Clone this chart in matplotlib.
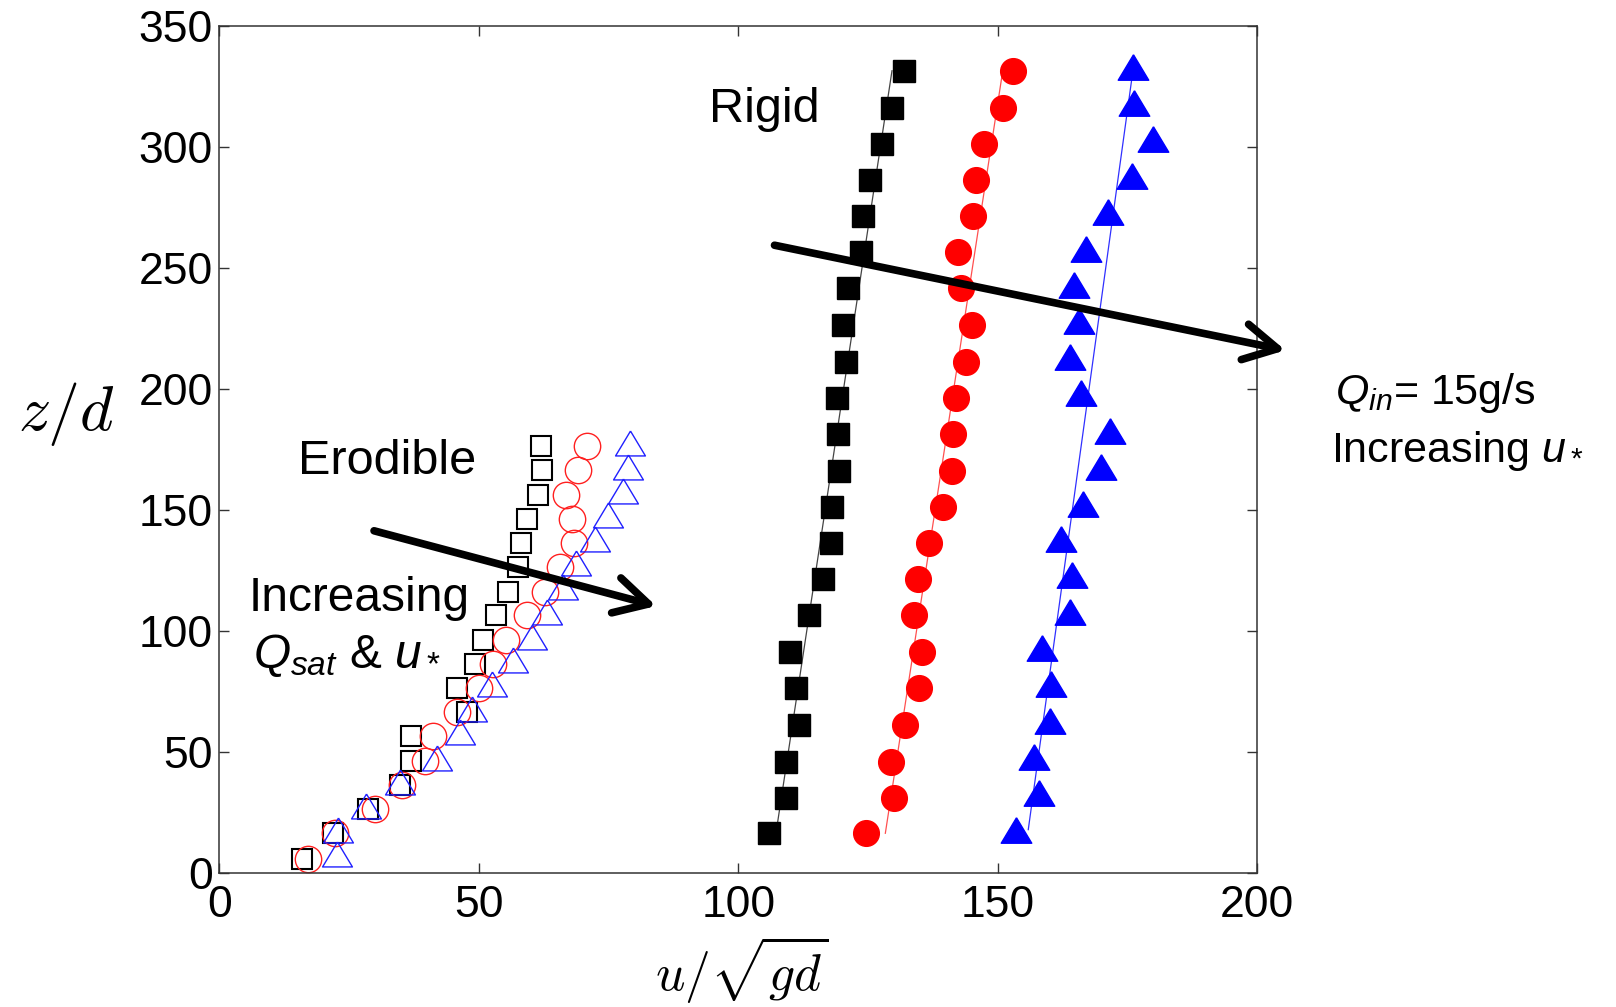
import numpy as np
import matplotlib.pyplot as plt

plt.rcParams['font.family'] = ['Liberation Sans', 'DejaVu Sans']
plt.rcParams['mathtext.fontset'] = 'custom'
plt.rcParams['mathtext.rm'] = 'Liberation Sans'
plt.rcParams['mathtext.it'] = 'Liberation Sans:italic'

# rigid bed profiles (filled markers)
rigid_z = [16.4, 31.1, 46.0, 61.2, 76.3, 91.2, 106.6, 121.4, 136.2, 151.1, 166.3,
           181.3, 196.2, 211.0, 226.4, 241.6, 256.6, 271.5, 286.4, 301.2, 316.2, 331.5]
rigid_u_black = [105.9, 109.2, 109.2, 111.7, 111.2, 110.0, 113.7, 116.4, 117.9, 118.1, 119.5,
                 119.3, 119.1, 120.8, 120.2, 121.2, 123.7, 124.1, 125.4, 127.7, 129.7, 132.0]
rigid_u_red = [124.7, 130.1, 129.5, 132.1, 134.9, 135.5, 133.8, 134.7, 136.7, 139.4, 141.2,
               141.5, 141.9, 144.0, 145.0, 143.0, 142.3, 145.3, 145.9, 147.3, 151.1, 152.9]
rigid_z_tri = [17.9, 32.9, 47.8, 62.8, 78.0, 93.1, 107.9, 123.0, 137.9, 152.6, 167.8,
               182.8, 198.2, 213.1, 228.0, 242.8, 258.0, 273.0, 288.0, 303.2, 318.0, 333.0]
rigid_u_blue = [153.6, 157.9, 157.0, 160.2, 160.3, 158.6, 164.0, 164.3, 162.2, 166.4, 170.0,
                171.7, 166.0, 163.9, 165.7, 164.7, 167.1, 171.3, 176.0, 179.9, 176.3, 176.1]

# erodible bed profiles (open markers)
erod_z = [5.9, 16.4, 26.3, 36.4, 46.3, 56.5, 66.5, 76.3, 86.2, 96.3, 106.4, 116.2,
          126.6, 136.2, 146.3, 156.2, 166.4, 176.4]
erod_u_black = [16.0, 21.9, 28.7, 34.8, 37.0, 37.0, 47.8, 45.8, 49.3, 50.9, 53.4, 55.7,
                57.6, 58.2, 59.3, 61.4, 62.1, 61.9]
erod_u_red = [17.1, 22.3, 30.0, 35.1, 39.6, 41.2, 45.7, 50.1, 52.8, 55.3, 59.2, 62.7,
              65.6, 68.3, 67.9, 66.9, 69.2, 70.8]
erod_z_tri = [7.8, 17.8, 27.5, 37.5, 47.4, 58.4, 67.8, 78.0, 88.0, 97.6, 108.0, 118.0,
              128.0, 137.9, 147.9, 157.9, 167.9, 177.8]
erod_u_blue = [22.7, 22.9, 28.2, 34.8, 41.9, 46.3, 48.6, 52.5, 56.5, 60.2, 63.1, 66.3,
               68.8, 72.4, 74.9, 77.8, 78.8, 79.1]

xticks = [0, 50, 100, 150, 200]
yticks = [0, 50, 100, 150, 200, 250, 300, 350]

# matlab-style wide triangle
tri = [(0, 1), (-1.2, -1), (1.2, -1), (0, 1)]

fig = plt.figure(figsize=(16.16, 10.07), dpi=100)
ax = fig.add_axes([0.1358, 0.1331, 0.642, 0.8411])

ax.plot(erod_u_black, erod_z, 's', ms=15, mfc='none', mec='k', mew=1.5)
ax.plot(erod_u_red, erod_z, 'o', ms=19, mfc='none', mec='#ff2020', mew=1.0)
ax.plot(erod_u_blue, erod_z_tri, ls='none', marker=tri, ms=21.5, mfc='none', mec='#2020ff', mew=1.0)

# linear fits through the rigid bed profiles
for u, z, c in [(rigid_u_black, rigid_z, '#444444'), (rigid_u_red, rigid_z, '#ff5050'),
                (rigid_u_blue, rigid_z_tri, '#3030ff')]:
    a, b = np.polyfit(z, u, 1)
    zz = np.array([min(z), max(z)])
    ax.plot(a * zz + b, zz, color=c, lw=0.9)

ax.plot(rigid_u_black, rigid_z, 's', ms=16.5, mfc='k', mec='k', mew=1)
ax.plot(rigid_u_red, rigid_z, 'o', ms=18.5, mfc='r', mec='r', mew=1)
ax.plot(rigid_u_blue, rigid_z_tri, ls='none', marker=tri, ms=22, mfc='b', mec='b', mew=1)

ax.set_xlim(0, 200)
ax.set_ylim(0, 350)
ax.set_xticks(xticks)
ax.set_yticks(yticks)
ax.tick_params(direction='in', length=7, width=1, top=True, right=True,
               labelsize=32, color='#333333')
ax.tick_params(axis='x', pad=9)
ax.tick_params(axis='y', pad=5)
for s in ax.spines.values():
    s.set_color('#333333')
    s.set_linewidth(1.1)

ax.set_xlabel(r'$u/\sqrt{gd}$', fontsize=37, math_fontfamily='cm', va='center')
ax.xaxis.set_label_coords(0.5036, -0.115)
ax.set_ylabel(r'$z/d$', fontsize=46, math_fontfamily='cm', rotation=0, va='center', ha='center')
ax.yaxis.set_label_coords(-0.148, 0.542)

arrow = dict(arrowstyle='->,head_length=1.2,head_width=0.65', lw=5.5, color='k',
             shrinkA=0, shrinkB=0, mutation_scale=20)
ax.annotate('', xy=(205.5, 216.0), xytext=(107.0, 259.4), arrowprops=arrow,
            annotation_clip=False)
ax.annotate('', xy=(84.2, 110.3), xytext=(29.8, 141.4), arrowprops=arrow,
            annotation_clip=False)

ax.text(94.4, 310.5, 'Rigid', fontsize=35, va='baseline')
ax.text(15.1, 164.9, 'Erodible', fontsize=35, va='baseline')
ax.text(5.6, 108.2, 'Increasing', fontsize=34.5, va='baseline')
ax.text(6.5, 84.8, r'$Q_{sat}$ & $u_*$', fontsize=34.5, va='baseline')
ax.text(215.1, 193.8, r'$Q_{in}$= 15g/s', fontsize=31, va='baseline')
ax.text(214.3, 170.0, r'Increasing $u_*$', fontsize=31, va='baseline')

fig.savefig('out.png', dpi=100)
